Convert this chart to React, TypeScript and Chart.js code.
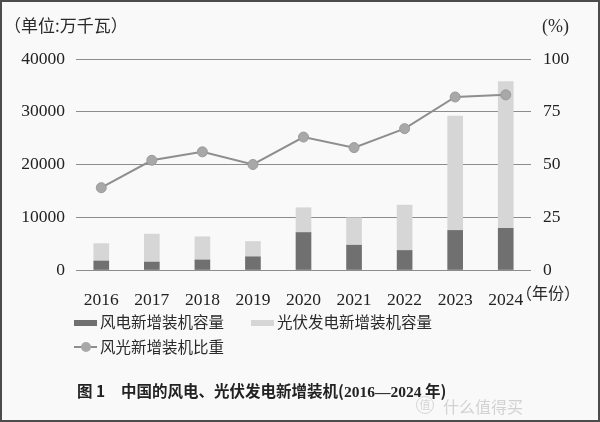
import { useEffect, useRef } from 'react';
import Chart from 'chart.js/auto';

const years = ['2016', '2017', '2018', '2019', '2020', '2021', '2022', '2023', '2024'];
const windAdded = [1700, 1500, 1900, 2500, 7100, 4700, 3700, 7500, 7900];
const solarAdded = [3300, 5300, 4400, 2900, 4700, 5200, 8600, 21700, 27800];
const windSolarShare = [39, 52, 56, 50, 63, 58, 67, 82, 83];
const leftTicks = [0, 10000, 20000, 30000, 40000];
const rightTicks = [0, 25, 50, 75, 100];

const serif = '"Liberation Serif", "DejaVu Serif", serif';
const cjk = '"Noto Sans CJK SC", sans-serif';

const App = () => {
  const chartRef = useRef<HTMLCanvasElement | null>(null);

  useEffect(() => {
    document.body.style.margin = '0';
    if (!chartRef.current) return;
    const ctx = chartRef.current.getContext('2d');
    if (!ctx) return;

    const tickFont = { family: serif, size: 17.5 };
    const myChart = new Chart(ctx, {
      data: {
        labels: years,
        datasets: [
          {
            type: 'line',
            label: '风光新增装机比重',
            data: windSolarShare,
            yAxisID: 'y1',
            borderColor: '#8e8e8e',
            borderWidth: 2,
            pointRadius: 5,
            pointBackgroundColor: '#a8a8a8',
            pointBorderColor: '#9a9a9a',
            pointBorderWidth: 1,
            order: 0
          },
          {
            type: 'bar',
            label: '风电新增装机容量',
            data: windAdded,
            backgroundColor: '#707070',
            barThickness: 15,
            stack: 'cap',
            order: 1
          },
          {
            type: 'bar',
            label: '光伏发电新增装机容量',
            data: solarAdded,
            backgroundColor: '#d6d6d6',
            barThickness: 15,
            stack: 'cap',
            order: 1
          }
        ]
      },
      options: {
        animation: false,
        responsive: true,
        maintainAspectRatio: false,
        layout: { padding: { top: 59 } },
        plugins: { legend: { display: false }, tooltip: { enabled: false } },
        scales: {
          x: {
            stacked: true,
            grid: { display: false },
            border: { display: false },
            ticks: { font: tickFont, color: '#222', padding: 12 },
            afterFit: (s: any) => {
              s.height = 152;
            }
          },
          y: {
            stacked: true,
            position: 'left',
            min: 0,
            max: 40000,
            afterBuildTicks: (s: any) => {
              s.ticks = leftTicks.map((v) => ({ value: v }));
            },
            grid: { color: '#8c8c8c', lineWidth: 1, drawTicks: false },
            border: { display: false },
            ticks: { font: tickFont, color: '#222', padding: 11, callback: (v: any) => String(v) },
            afterFit: (s: any) => {
              s.width = 76;
            }
          },
          y1: {
            position: 'right',
            min: 0,
            max: 100,
            afterBuildTicks: (s: any) => {
              s.ticks = rightTicks.map((v) => ({ value: v }));
            },
            grid: { display: false, drawTicks: false },
            border: { display: false },
            ticks: { font: tickFont, color: '#222', padding: 12, callback: (v: any) => String(v) },
            afterFit: (s: any) => {
              s.width = 69;
            }
          }
        }
      }
    });

    return () => {
      myChart.destroy();
    };
  }, []);

  const text = (left: number, top: number, size: number, content: any, extra: any = {}) => (
    <span
      style={{
        position: 'absolute',
        left,
        top: top - size / 2,
        fontSize: size,
        lineHeight: `${size}px`,
        fontFamily: cjk,
        color: '#2a2a2a',
        whiteSpace: 'nowrap',
        ...extra
      }}
    >
      {content}
    </span>
  );

  return (
    <div
      style={{
        position: 'fixed',
        left: 0,
        top: 0,
        width: 600,
        height: 422,
        background: '#f9f9f9',
        boxShadow: 'inset 0 0 0 2px #4c4c4c'
      }}
    >
      <div style={{ position: 'relative', width: 600, height: 422 }}>
        <canvas ref={chartRef}></canvas>
      </div>
      {text(4, 24, 17, '（单位:万千瓦）')}
      {text(542, 26, 18, '(%)', { fontFamily: serif })}
      {text(516, 292, 16, '（年份）')}

      <div style={{ position: 'absolute', left: 74, top: 320, width: 23, height: 6, background: '#707070' }} />
      {text(100, 322, 15.5, '风电新增装机容量')}
      <div style={{ position: 'absolute', left: 251, top: 320, width: 23, height: 6, background: '#d6d6d6' }} />
      {text(277, 322, 15.5, '光伏发电新增装机容量')}
      <div style={{ position: 'absolute', left: 74, top: 346, width: 23, height: 2, background: '#8e8e8e' }} />
      <div
        style={{
          position: 'absolute',
          left: 81,
          top: 342,
          width: 10,
          height: 10,
          borderRadius: '50%',
          background: '#a8a8a8'
        }}
      />
      {text(100, 347, 15.5, '风光新增装机比重')}

      {text(77, 391, 15.5, '图 1', { fontWeight: 'bold', color: '#222' })}
      {text(
        121,
        391,
        15.5,
        <>
          中国的风电、光伏发电新增装机(
          <span style={{ fontFamily: serif }}>2016—2024</span> 年)
        </>,
        { fontWeight: 'bold', color: '#222' }
      )}

      <div
        style={{
          position: 'absolute',
          left: 416,
          top: 396,
          width: 18,
          height: 18,
          borderRadius: '50%',
          border: '1.5px solid #d4d4d4',
          boxSizing: 'border-box',
          color: '#d4d4d4',
          fontSize: 11,
          lineHeight: '15px',
          textAlign: 'center',
          fontFamily: cjk
        }}
      >
        值
      </div>
      {text(443, 406, 16, '什么值得买', { color: '#d2d2d2' })}
    </div>
  );
};

export default App;
